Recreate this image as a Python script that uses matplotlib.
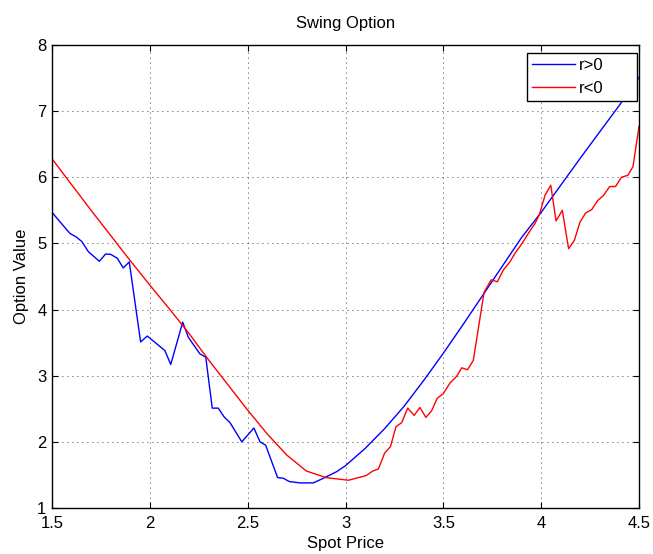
import matplotlib
matplotlib.use("Agg")
import matplotlib.pyplot as plt

plt.rcParams['font.family'] = ['Liberation Sans', 'DejaVu Sans']

# r>0 (blue): spot prices and option values
blue_x = [1.5, 1.592, 1.623, 1.652, 1.686, 1.742, 1.774, 1.80, 1.834, 1.864, 1.895,
          1.953, 1.987, 2.077, 2.107, 2.168, 2.197, 2.256, 2.286, 2.319, 2.35, 2.379,
          2.41, 2.47, 2.532, 2.563, 2.592, 2.653, 2.682, 2.713, 2.767, 2.836, 2.887,
          2.955, 3.0, 3.1, 3.2, 3.3, 3.4, 3.5, 3.6, 3.7, 3.8, 3.9, 4.0, 4.1, 4.2,
          4.3, 4.4, 4.5]
blue_y = [5.47, 5.15, 5.10, 5.03, 4.875, 4.73, 4.84, 4.835, 4.775, 4.63, 4.72,
          3.51, 3.60, 3.38, 3.17, 3.81, 3.58, 3.33, 3.28, 2.51, 2.51, 2.38,
          2.29, 2.00, 2.21, 2.00, 1.95, 1.46, 1.45, 1.40, 1.38, 1.38, 1.45,
          1.55, 1.64, 1.90, 2.20, 2.54, 2.93, 3.34, 3.77, 4.21, 4.65, 5.09, 5.47,
          5.88, 6.29, 6.69, 7.09, 7.51]

# r<0 (red)
red_x = [1.5, 1.6, 1.7, 1.8, 1.9, 2.0, 2.1, 2.2, 2.3, 2.4, 2.5, 2.6, 2.7, 2.8,
         2.9, 3.015, 3.105, 3.14, 3.168, 3.20, 3.23, 3.258, 3.287, 3.318, 3.351,
         3.38, 3.411, 3.44, 3.469, 3.50, 3.534, 3.568, 3.594, 3.623, 3.653, 3.708,
         3.744, 3.776, 3.807, 3.84, 3.866, 3.90, 3.934, 3.968, 3.99, 4.02, 4.049,
         4.076, 4.108, 4.14, 4.17, 4.198, 4.227, 4.258, 4.289, 4.317, 4.35, 4.38,
         4.41, 4.443, 4.469, 4.5]
red_y = [6.28, 5.89, 5.50, 5.12, 4.74, 4.37, 4.01, 3.64, 3.24, 2.86, 2.48, 2.12,
         1.80, 1.56, 1.46, 1.42, 1.49, 1.56, 1.59, 1.83, 1.93, 2.23, 2.29, 2.51,
         2.40, 2.52, 2.37, 2.47, 2.66, 2.73, 2.89, 2.99, 3.12, 3.09, 3.23, 4.26,
         4.45, 4.42, 4.60, 4.72, 4.85, 4.99, 5.15, 5.30, 5.43, 5.73, 5.88,
         5.34, 5.50, 4.92, 5.05, 5.32, 5.46, 5.51, 5.65, 5.72, 5.86, 5.86,
         6.00, 6.03, 6.16, 6.77]

xticks = [1.5, 2, 2.5, 3, 3.5, 4, 4.5]
xticklabels = ['1.5', '2', '2.5', '3', '3.5', '4', '4.5']
yticks = [1, 2, 3, 4, 5, 6, 7, 8]

fig = plt.figure(figsize=(6.53, 5.54), dpi=100)
ax = fig.add_axes([0.0796, 0.083, 0.899, 0.8358])

ax.plot(blue_x, blue_y, color='blue', linewidth=1.0, label='r>0')
ax.plot(red_x, red_y, color='red', linewidth=1.0, label='r<0')

ax.set_xlim(1.5, 4.5)
ax.set_ylim(1, 8)
ax.set_xticks(xticks)
ax.set_xticklabels(xticklabels)
ax.set_yticks(yticks)
ax.tick_params(direction='in', top=True, right=True, length=4, labelsize=12)
ax.tick_params(axis='x', pad=6)
ax.tick_params(axis='y', pad=4)
for s in ax.spines.values():
    s.set_linewidth(1.0)

ax.grid(True, color='black', linestyle=(0, (1, 5)), linewidth=0.6)

ax.set_title('Swing Option', fontsize=12, pad=12)
ax.set_xlabel('Spot Price', fontsize=12, labelpad=3)
ax.set_ylabel('Option Value', fontsize=12, labelpad=6)

# wide box with empty space at the right, like the original legend
leg = ax.legend(loc='upper right', bbox_to_anchor=(0.8092, 0.5, 0.1874, 0.4827),
                mode='expand', fontsize=12, fancybox=False, framealpha=1,
                edgecolor='black', borderaxespad=0, handlelength=2.6,
                handletextpad=0.2, borderpad=0.3)
leg.get_frame().set_linewidth(1.0)

fig.savefig('out.png', dpi=100)
